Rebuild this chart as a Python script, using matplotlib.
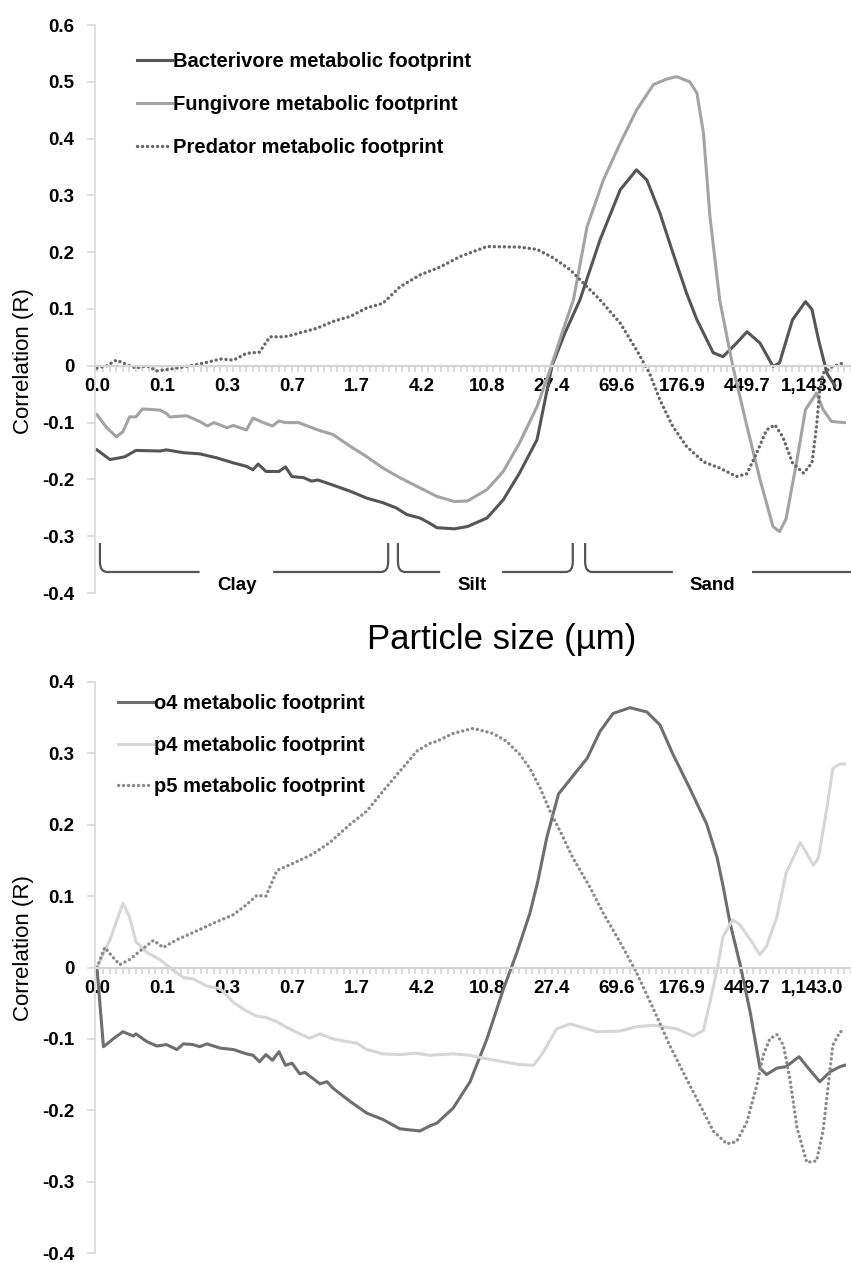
import matplotlib
matplotlib.use("Agg")
import matplotlib.pyplot as plt
from matplotlib.path import Path
from matplotlib.patches import PathPatch
from matplotlib.ticker import MultipleLocator, FixedLocator, FuncFormatter

plt.rcParams['font.family'] = ['Liberation Sans', 'DejaVu Sans']

# ---------------- data ----------------
size_labels = ['0.0', '0.1', '0.3', '0.7', '1.7', '4.2', '10.8', '27.4',
               '69.6', '176.9', '449.7', '1,143.0']
n_categories = 116

# top panel (category index, correlation)
bact_x = [0, 2, 3.5, 4.3, 6, 9.7, 10.7, 13.3, 15.8, 18.4, 21, 23, 24, 24.8, 26, 28, 29, 30, 31.8, 33,
          34, 36.3, 39, 41.5, 44, 46, 47.7, 49.7, 51, 52.3, 55, 57, 60, 62.5, 65, 67.7, 70, 72, 74.3, 77.4,
          80.5, 83, 84.6, 86.6, 88.6, 90.7, 92.3, 94.8, 96.3, 98.4, 100, 102, 104, 105, 107, 109, 110, 111,
          112.3, 113.5]
bact_y = [-0.148, -0.165, -0.162, -0.160, -0.149, -0.150, -0.148, -0.153, -0.155, -0.162, -0.171, -0.177,
          -0.183, -0.173, -0.186, -0.186, -0.178, -0.195, -0.197, -0.203, -0.201, -0.210, -0.221, -0.233,
          -0.241, -0.250, -0.262, -0.268, -0.276, -0.285, -0.287, -0.283, -0.268, -0.236, -0.189, -0.130,
          0.0, 0.058, 0.116, 0.222, 0.31, 0.345, 0.327, 0.269, 0.199, 0.128, 0.081, 0.023, 0.016, 0.04,
          0.06, 0.04, -0.001, 0.005, 0.081, 0.113, 0.099, 0.046, -0.013, -0.035]

fung_x = [0, 1.5, 3, 4, 5, 6, 7, 9.7, 10.7, 11.2, 13.8, 15.8, 17, 18, 20, 21, 23, 24, 25.6, 27, 28, 29,
          31, 34, 36.3, 39, 41.5, 44, 46.6, 49.7, 52.3, 55, 57, 60, 62.5, 65, 67.7, 69.7, 71.7, 73.3, 75.4,
          77.9, 80.5, 83, 85.6, 87.7, 89.2, 91.2, 92.3, 93.3, 94.3, 95.8, 97.8, 100, 102, 104, 105, 106,
          107.7, 109, 110.7, 111.7, 113, 115]
fung_y = [-0.086, -0.109, -0.125, -0.116, -0.09, -0.09, -0.076, -0.078, -0.084, -0.09, -0.088, -0.098,
          -0.106, -0.1, -0.109, -0.105, -0.113, -0.092, -0.1, -0.106, -0.097, -0.1, -0.1, -0.113, -0.121,
          -0.142, -0.16, -0.18, -0.197, -0.215, -0.23, -0.239, -0.238, -0.218, -0.186, -0.136, -0.072,
          -0.007, 0.063, 0.116, 0.245, 0.327, 0.392, 0.45, 0.495, 0.505, 0.509, 0.5, 0.48, 0.41, 0.263,
          0.116, 0.0, -0.107, -0.2, -0.283, -0.292, -0.27, -0.165, -0.077, -0.048, -0.077, -0.098, -0.1]

pred_x = [0, 1.5, 3, 4.6, 6, 7.7, 9.2, 11.8, 14.3, 16.9, 19, 21, 23, 25, 26.6, 28.7, 30, 31.2, 33.8,
          36.3, 39, 41.5, 44, 46.6, 49.7, 52.8, 55.8, 60, 65, 67.7, 70.2, 72.8, 75.4, 77.4, 80.5, 83, 85,
          86.6, 88.6, 90.7, 93.3, 95.8, 98.4, 100, 101.5, 103, 104.3, 105.5, 107, 108.7, 110, 110.7, 111.2,
          111.7, 113.2, 114.8]
pred_y = [-0.004, 0.0, 0.01, 0.002, -0.004, 0.0, -0.009, -0.005, 0.0, 0.006, 0.012, 0.01, 0.022, 0.024,
          0.051, 0.051, 0.054, 0.058, 0.066, 0.078, 0.087, 0.102, 0.11, 0.139, 0.16, 0.174, 0.192, 0.21,
          0.209, 0.205, 0.19, 0.169, 0.139, 0.116, 0.075, 0.028, -0.013, -0.06, -0.107, -0.142, -0.169,
          -0.18, -0.195, -0.19, -0.153, -0.113, -0.104, -0.125, -0.171, -0.189, -0.171, -0.107, -0.042,
          -0.013, -0.001, 0.005]

# bottom panel
o4_x = [0, 1, 2.5, 4, 5.6, 6, 7.7, 9.2, 10.7, 12.3, 13.3, 14.8, 15.8, 16.9, 19, 21, 23, 24, 25, 26, 27,
        28, 29, 30, 31.2, 32, 34.3, 35.4, 36.3, 39, 41.5, 44, 46.6, 49.7, 51.2, 52.3, 54.8, 57.4, 60, 62.5,
        64.6, 66.6, 67.8, 69.2, 71, 73.8, 75.4, 77.4, 79.4, 82, 84.6, 86.6, 88.6, 91.2, 93.8, 95.4, 96.3,
        97.4, 99, 100.5, 102, 103, 104.6, 106, 108, 109.7, 111.2, 112.8, 114.3, 115]
o4_y = [0.0, -0.111, -0.1, -0.09, -0.096, -0.093, -0.104, -0.11, -0.108, -0.115, -0.107, -0.108, -0.111,
        -0.107, -0.113, -0.115, -0.121, -0.123, -0.132, -0.122, -0.13, -0.118, -0.137, -0.134, -0.149,
        -0.147, -0.163, -0.16, -0.169, -0.188, -0.204, -0.213, -0.226, -0.229, -0.222, -0.218, -0.197,
        -0.16, -0.1, -0.031, 0.021, 0.076, 0.12, 0.182, 0.243, 0.275, 0.293, 0.331, 0.356, 0.364, 0.358,
        0.34, 0.299, 0.251, 0.201, 0.154, 0.115, 0.062, 0.002, -0.063, -0.141, -0.15, -0.141, -0.139,
        -0.125, -0.144, -0.16, -0.146, -0.139, -0.137]

p4_x = [0, 2, 4, 5, 6, 7.7, 9.7, 11.2, 13.3, 14.8, 16.9, 19, 21, 23, 24.6, 26, 27.7, 29, 31.2, 32.7,
        34.3, 36.3, 38.5, 40, 41.5, 44, 46.6, 49, 51.2, 54.8, 57.4, 60, 62.5, 65, 67.2, 68.7, 70.7, 72.8,
        75.4, 76.9, 80.5, 83, 85.6, 89.2, 91.7, 93.3, 94.3, 95.4, 96.3, 97.8, 98.9, 100.5, 102, 103, 104.6,
        106, 108.2, 109.2, 110.2, 111, 112.3, 113.2, 114.3, 115]
p4_y = [0.0, 0.039, 0.09, 0.071, 0.036, 0.021, 0.011, 0.0, -0.014, -0.016, -0.026, -0.03, -0.049, -0.061,
        -0.068, -0.07, -0.076, -0.083, -0.093, -0.099, -0.093, -0.1, -0.104, -0.106, -0.115, -0.121,
        -0.122, -0.12, -0.123, -0.121, -0.123, -0.128, -0.132, -0.136, -0.137, -0.118, -0.086, -0.079,
        -0.086, -0.09, -0.089, -0.083, -0.081, -0.086, -0.096, -0.088, -0.049, -0.003, 0.043, 0.067, 0.06,
        0.039, 0.018, 0.03, 0.071, 0.132, 0.175, 0.16, 0.143, 0.154, 0.224, 0.279, 0.285, 0.285]

p5_x = [0, 1.2, 2.5, 3.5, 5, 6.6, 8.7, 10.2, 12.3, 14.8, 17.9, 21, 23, 24.6, 26, 27.7, 30.2, 33.2, 35.8,
        39, 41.5, 44, 46.6, 49.2, 51.2, 52.3, 54.8, 57.9, 60.9, 63, 65, 66.6, 68.2, 69.7, 71.2, 73.2, 75.8,
        77.9, 80.5, 83, 85.6, 88.1, 90.7, 93.3, 94.8, 96.9, 98.4, 100, 101.5, 102.5, 103.5, 104.6, 105.6,
        106.6, 107.7, 109.2, 110.7, 111.7, 112.5, 113.2, 114.3, 115]
p5_y = [0.0, 0.028, 0.014, 0.004, 0.011, 0.023, 0.038, 0.028, 0.039, 0.049, 0.062, 0.074, 0.088, 0.101,
        0.1, 0.136, 0.146, 0.159, 0.175, 0.201, 0.219, 0.247, 0.275, 0.303, 0.314, 0.317, 0.328, 0.335,
        0.328, 0.317, 0.299, 0.279, 0.251, 0.219, 0.192, 0.154, 0.113, 0.076, 0.035, -0.007, -0.058,
        -0.109, -0.156, -0.202, -0.229, -0.247, -0.244, -0.216, -0.165, -0.123, -0.1, -0.094, -0.109,
        -0.156, -0.225, -0.273, -0.271, -0.229, -0.165, -0.109, -0.09, -0.089]

top_labels = ['Bacterivore metabolic footprint', 'Fungivore metabolic footprint',
              'Predator metabolic footprint']
bottom_labels = ['o4 metabolic footprint', 'p4 metabolic footprint', 'p5 metabolic footprint']
fractions = ['Clay', 'Silt', 'Sand']

# ---------------- figure ----------------
W, H = 851, 1263
fig = plt.figure(figsize=(W / 100, H / 100), dpi=100)
fig.patch.set_facecolor('white')


def fx(px):
    return px / W


def fy(py):
    return 1 - py / H


ax1 = fig.add_axes([fx(95), fy(593), 756 / W, 568 / H])
ax2 = fig.add_axes([fx(95), fy(1253), 756 / W, 571 / H])

DOT = (0, (0.05, 1.45))


def style(ax, ylo, yhi):
    ax.set_xlim(-0.3, 116.0)
    ax.set_ylim(ylo, yhi)
    for s in ['top', 'right']:
        ax.spines[s].set_visible(False)
    ax.spines['left'].set_color('#d9d9d9')
    ax.spines['left'].set_linewidth(1.2)
    ax.spines['bottom'].set_position(('data', 0))
    ax.spines['bottom'].set_color('#d4d4d4')
    ax.spines['bottom'].set_linewidth(1.6)
    ax.xaxis.set_major_locator(FixedLocator(list(range(0, 10 * len(size_labels), 10))))
    ax.set_xticklabels(size_labels)
    ax.xaxis.set_minor_locator(MultipleLocator(1))
    ax.tick_params(axis='x', which='both', direction='out', length=4, width=1.2,
                   color='#d4d4d4', pad=5)
    ax.yaxis.set_major_locator(MultipleLocator(0.1))
    ax.yaxis.set_major_formatter(FuncFormatter(lambda v, p: '0' if abs(v) < 1e-9 else f'{v:.1f}'))
    ax.tick_params(axis='y', direction='out', length=6, width=1.2, color='#d9d9d9', pad=9)
    for lab in ax.get_xticklabels() + ax.get_yticklabels():
        lab.set_fontsize(13.5)
        lab.set_fontweight('bold')
        lab.set_color('black')


style(ax1, -0.4, 0.6)
style(ax2, -0.4, 0.4)

# top panel lines
l1, = ax1.plot(bact_x, bact_y, color='#555555', lw=2.2, solid_joinstyle='round')
l2, = ax1.plot(fung_x, fung_y, color='#a3a3a3', lw=2.2, solid_joinstyle='round')
l3, = ax1.plot(pred_x, pred_y, color='#666666', lw=2.4, linestyle=DOT, dash_capstyle='round')

# bottom panel lines
m1, = ax2.plot(o4_x, o4_y, color='#6e6e6e', lw=2.2, solid_joinstyle='round')
m2, = ax2.plot(p4_x, p4_y, color='#d6d6d6', lw=2.2, solid_joinstyle='round')
m3, = ax2.plot(p5_x, p5_y, color='#8a8a8a', lw=2.4, linestyle=DOT, dash_capstyle='round')

leg_font = {'weight': 'bold', 'size': 14.5}
ax1.legend([l1, l2, l3], top_labels, loc='upper left', bbox_to_anchor=(fx(137), fy(52)),
           bbox_transform=fig.transFigure, frameon=False, handlelength=1.75, handletextpad=0.05,
           labelspacing=1.2, borderpad=0, borderaxespad=0, prop=leg_font)
ax2.legend([m1, m2, m3], bottom_labels, loc='upper left', bbox_to_anchor=(fx(118), fy(694)),
           bbox_transform=fig.transFigure, frameon=False, handlelength=1.75, handletextpad=0.05,
           labelspacing=1.12, borderpad=0, borderaxespad=0, prop=leg_font)

# particle-size fraction brackets (top panel)
yt, yc, yb = -0.312, -0.345, -0.363
M, L, C = Path.MOVETO, Path.LINETO, Path.CURVE3


def left_hook(x0, x1):
    return [(x0, yt), (x0, yc), (x0, yb), (x0 + 1.1, yb), (x1, yb)], [M, L, C, C, L]


def right_hook(x0, x1):
    return [(x0, yb), (x1 - 1.1, yb), (x1, yb), (x1, yc), (x1, yt)], [M, L, C, C, L]


segs = [left_hook(0.46, 15.8), right_hook(27.1, 44.8),
        left_hook(46.3, 52.8), right_hook(62.3, 73.2),
        left_hook(75.1, 88.6), ([(100.8, yb), (116.0, yb)], [M, L])]
for verts, codes in segs:
    ax1.add_patch(PathPatch(Path(verts, codes), fill=False, edgecolor='#555555', lw=1.6,
                            clip_on=False, capstyle='butt'))
for name, xc in zip(fractions, [21.5, 57.7, 94.6]):
    ax1.text(xc, -0.386, name, ha='center', va='center', fontsize=13.5, fontweight='bold')

# axis titles
fig.text(fx(24), fy(361), 'Correlation (R)', rotation=90, ha='center', va='center', fontsize=16)
fig.text(fx(24), fy(948), 'Correlation (R)', rotation=90, ha='center', va='center', fontsize=16)
fig.text(fx(502), fy(649), 'Particle size (\u00b5m)', ha='center', va='baseline', fontsize=25)

fig.savefig('out.png', dpi=100, facecolor='white')
